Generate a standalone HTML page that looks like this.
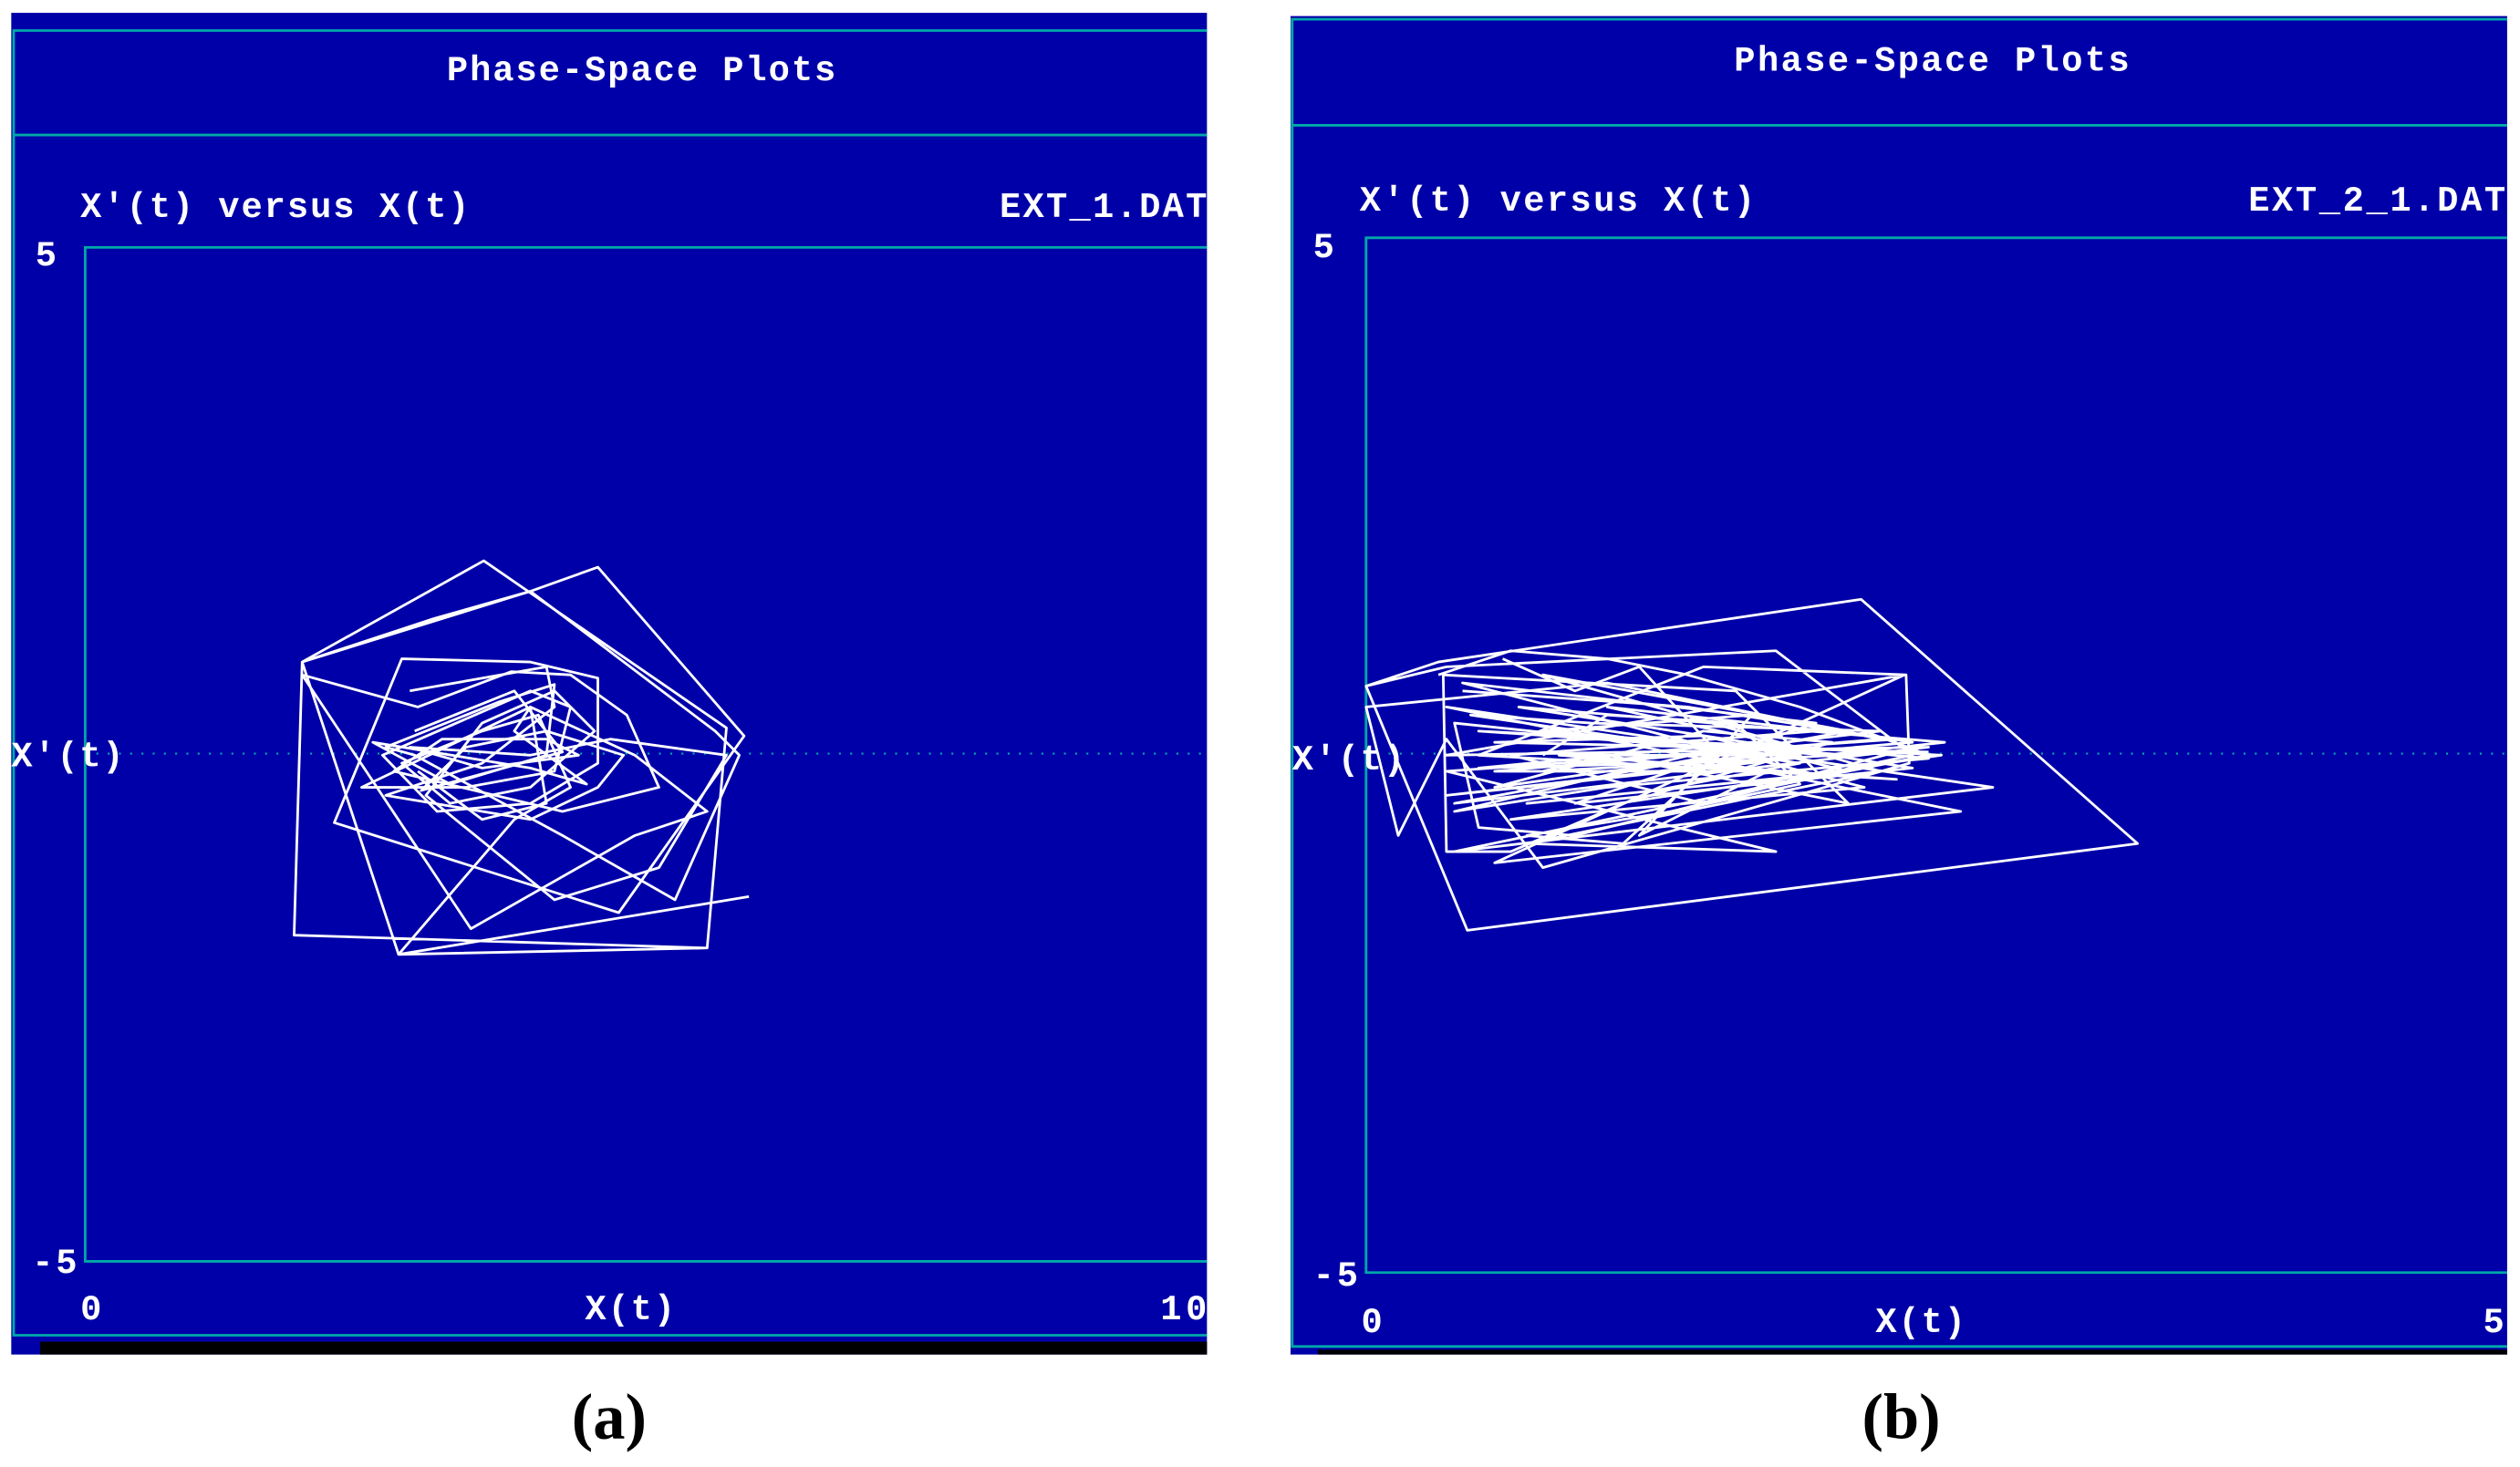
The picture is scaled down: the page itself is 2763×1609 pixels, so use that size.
<!DOCTYPE html>
<html><head><meta charset="utf-8"><style>
html,body{margin:0;padding:0;background:#fff;overflow:hidden}
svg{display:block}
.t{font-family:"Liberation Mono",monospace;fill:#fff;font-weight:bold;font-size:22px}
.c{font-family:"Liberation Serif",serif;font-weight:bold;font-size:40px;fill:#000}
</style></head><body>
<svg width="2763" height="1609" viewBox="0 0 1568 913" preserveAspectRatio="none" xmlns="http://www.w3.org/2000/svg">
<rect width="1568" height="913" fill="#fff"/>
<!-- Panel A -->
<rect x="7" y="8" width="744" height="835" fill="#0000A8"/>
<rect x="25" y="835" width="726" height="8" fill="#000"/>
<g stroke="#00A8A8" stroke-width="1.6" fill="none">
<polyline points="751,19 8.5,19 8.5,831 751,831"/>
<line x1="8" y1="84" x2="751" y2="84"/>
<polyline points="751,154 53,154 53,785 751,785"/>
</g>
<line x1="53" y1="469" x2="748" y2="469" stroke="#00A8A8" stroke-width="1.2" stroke-dasharray="1.2,5.8"/>
<text class="t" x="399" y="50" text-anchor="middle" textLength="242">Phase-Space Plots</text>
<text class="t" x="50" y="135" textLength="242">X'(t) versus X(t)</text>
<text class="t" x="622" y="135" textLength="129">EXT_1.DAT</text>
<text class="t" x="22" y="165">5</text>
<text class="t" x="20" y="792" textLength="28">-5</text>
<text class="t" x="7" y="477" textLength="70">X'(t)</text>
<text class="t" x="50" y="821">0</text>
<text class="t" x="392" y="821" text-anchor="middle" textLength="56">X(t)</text>
<text class="t" x="722" y="821" textLength="29">10</text>
<g fill="none" stroke="#fff" stroke-width="1.6" stroke-linejoin="round">
<polyline points="440,590 183,582 188,412 301,349 452,453 440,590 248,594 188,412 330,368 372,353 463,458 385,568 208,512 250,410 330,412 372,422 372,475 330,500 272,505 238,470 330,430 355,440 345,480 290,490 225,490 330,440 395,470 440,505 395,520 293,578 188,420 260,440 318,418 355,420 390,445 410,490 350,505 245,480 275,460 340,460 360,470 300,478 255,465 330,470 380,460 452,470 410,540 345,560 265,495 300,450 345,430 370,455 330,490 280,500 250,475 300,455 335,445 355,490 320,510 248,594 466,558"/>
<polyline points="188,412 270,385 330,368 445,455 460,470 420,560 350,520 258,470 240,465 310,437 345,426 340,470 280,488 232,462 330,478 365,488 320,455 330,440 340,500 300,510 260,480"/>
<polyline points="255,430 340,415 345,440 300,475 240,495 330,510 372,490 388,470 340,455 290,465 262,492 350,468 320,430 258,455"/>
</g>
<!-- Panel B -->
<rect x="803" y="10" width="757" height="833" fill="#0000A8"/>
<rect x="820" y="840" width="740" height="3" fill="#000"/>
<g stroke="#00A8A8" stroke-width="1.6" fill="none">
<polyline points="1560,12 804,12 804,838 1560,838"/>
<line x1="804" y1="78" x2="1560" y2="78"/>
<polyline points="1560,148 850,148 850,792 1560,792"/>
</g>
<line x1="850" y1="469" x2="1560" y2="469" stroke="#00A8A8" stroke-width="1.2" stroke-dasharray="1.2,5.8"/>
<text class="t" x="1202" y="44" text-anchor="middle" textLength="246">Phase-Space Plots</text>
<text class="t" x="846" y="131" textLength="246">X'(t) versus X(t)</text>
<text class="t" x="1399" y="131" textLength="160">EXT_2_1.DAT</text>
<text class="t" x="817" y="160">5</text>
<text class="t" x="817" y="800" textLength="28">-5</text>
<text class="t" x="804" y="479" textLength="70">X'(t)</text>
<text class="t" x="847" y="829">0</text>
<text class="t" x="1195" y="829" text-anchor="middle" textLength="56">X(t)</text>
<text class="t" x="1545" y="829">5</text>
<g fill="none" stroke="#fff" stroke-width="1.6" stroke-linejoin="round">
<polyline points="913,579 850,427 895,412 1158,373 1330,525 913,579 850,427 900,415 1105,405 1190,470 905,530 1240,490 900,440 1220,505 930,537 1185,420 900,470 1200,465 905,500 1150,455 960,420 1170,480 950,525 1105,530 900,480 1180,460 1000,440 1140,470 920,455 1208,470 940,510 1160,490 910,425 1130,450 980,500 1190,478 945,440 1210,462 900,495 1120,470 970,470 1180,485 920,470 1060,415 1186,420 1188,475 960,540 900,460 870,520 850,440 1000,425 1170,460 930,480 1100,480 1020,520 1090,445 960,455 1150,470"/>
<polyline points="895,420 940,405 1000,410 1050,420 1120,440 1200,470 1100,490 980,520 920,515 905,450 1000,460 1100,470 1000,480 930,490 1060,455 1140,462 1010,500 940,530 900,530 898,420 1080,430 1150,500 1000,470 960,480 1180,468 1060,500 940,470 1130,455"/>
<polyline points="910,430 1050,440 1190,462 1040,475 920,478 1090,462 1200,472 1000,490 905,505 1060,468 1170,455 990,450 915,445 1120,475 1030,492 950,500 1150,480 1060,458 930,462 1200,468"/>
<polyline points="935,410 980,430 1020,415 1070,470 1010,525 950,520 1040,505 1120,488 1080,450 1000,445 960,470"/>
</g>
<text class="c" x="379" y="895" text-anchor="middle">(a)</text>
<text class="c" x="1183" y="895" text-anchor="middle">(b)</text>
</svg>
</body></html>
